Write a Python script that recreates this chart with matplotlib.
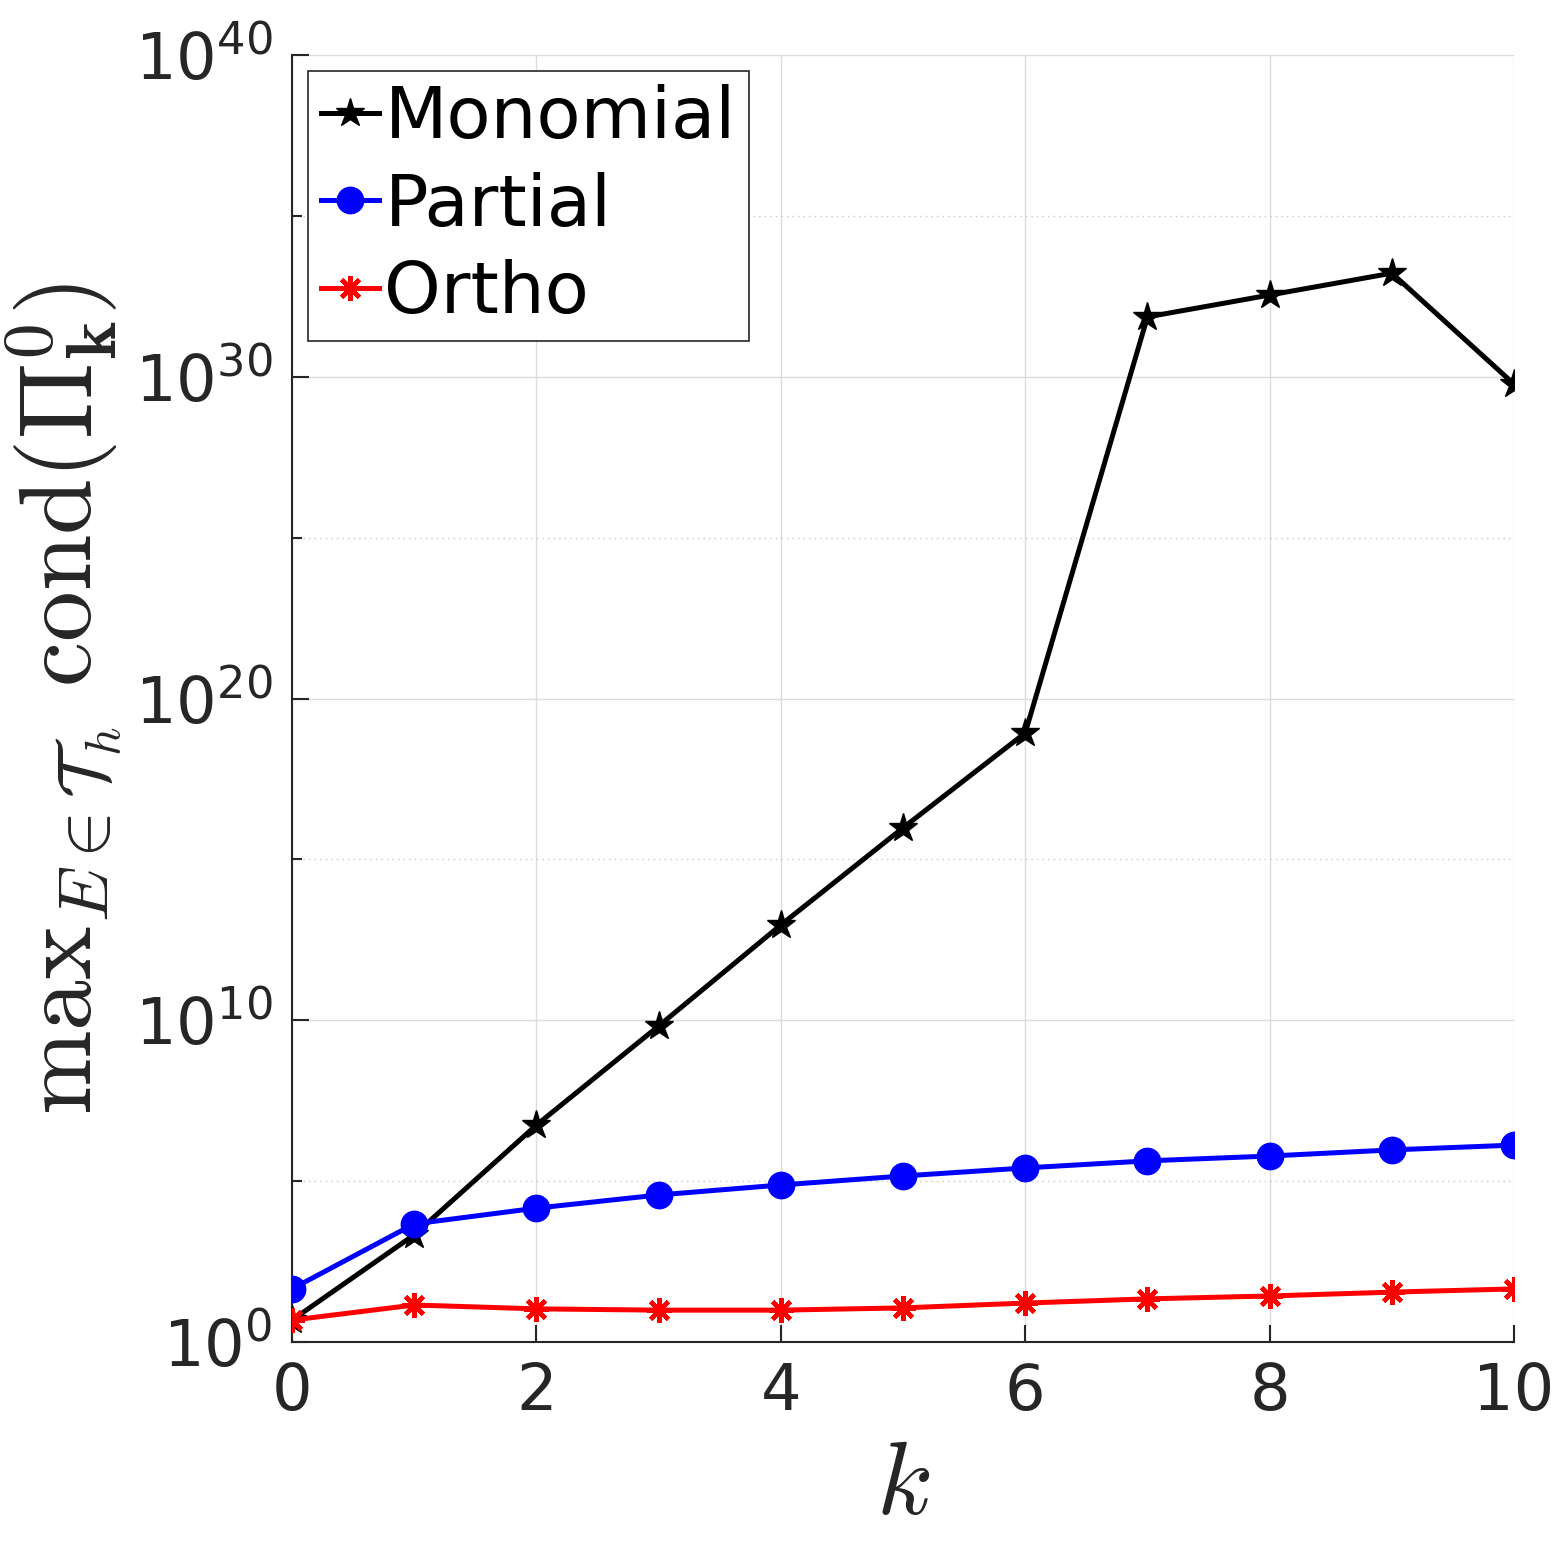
import numpy as np
import matplotlib
matplotlib.use("Agg")
from matplotlib import pyplot as plt

# polynomial degree
k = [0, 1, 2, 3, 4, 5, 6, 7, 8, 9, 10]

# log10 of max condition number
log_monomial = [0.68, 3.33, 6.74, 9.82, 12.96, 15.98, 18.93, 31.86, 32.54, 33.22, 29.77]
log_partial = [1.65, 3.67, 4.16, 4.57, 4.88, 5.16, 5.41, 5.63, 5.78, 5.97, 6.12]
log_ortho = [0.68, 1.15, 1.03, 0.99, 0.99, 1.06, 1.21, 1.34, 1.43, 1.55, 1.65]

x_ticks = [0, 2, 4, 6, 8, 10]
y_major_exp = [0, 10, 20, 30, 40]
y_minor_exp = [5, 15, 25, 35]

plt.rcParams["font.family"] = "DejaVu Sans"
plt.rcParams["mathtext.fontset"] = "dejavusans"

fig = plt.figure(figsize=(15.63, 15.63), dpi=100)
ax = fig.add_axes([0.1868, 0.1414, 0.7819, 0.8234])

ax.plot(k, 10.0 ** np.array(log_monomial), "-", color="black", lw=3.6,
        marker="*", markersize=21, label="Monomial", zorder=3)
ax.plot(k, 10.0 ** np.array(log_partial), "-", color="blue", lw=3.6,
        marker="o", markersize=19, label="Partial", zorder=4)
ax.plot(k, 10.0 ** np.array(log_ortho), "-", color="red", lw=3.6,
        marker=(8, 2, 0), markersize=18, markeredgewidth=3.2,
        label="Ortho", zorder=5)

ax.set_yscale("log")
ax.set_xlim(0, 10)
ax.set_ylim(1, 1e40)
ax.set_xticks(x_ticks)
ax.set_yticks([10.0 ** e for e in y_major_exp])
ax.set_yticks([10.0 ** e for e in y_minor_exp], minor=True)
ax.yaxis.set_minor_formatter(matplotlib.ticker.NullFormatter())

ax.grid(True, which="major", color="#dcdcdc", lw=1.0, ls="-")
ax.grid(True, which="minor", axis="y", color="#c8c8c8", lw=1.0, ls=(0, (1, 3)))
ax.set_axisbelow(True)

for s in ["top", "right"]:
    ax.spines[s].set_visible(False)
for s in ["left", "bottom"]:
    ax.spines[s].set_color("#262626")
    ax.spines[s].set_linewidth(1.5)

ax.tick_params(which="both", direction="in", colors="#262626",
               labelsize=46, width=1.5, pad=14)
ax.tick_params(which="major", length=12)
ax.tick_params(which="minor", length=7)

ax.set_xlabel(r"$k$", fontsize=74, math_fontfamily="cm", color="#262626",
              labelpad=8)
ax.set_ylabel(r"$\mathrm{max}_{E\in\mathcal{T}_h}\ \mathrm{cond}(\mathbf{\Pi}^{\mathbf{0}}_{\mathbf{k}})$",
              fontsize=73, math_fontfamily="cm", color="#262626", labelpad=8)

leg = ax.legend(loc="upper left", fontsize=52, fancybox=False,
                edgecolor="#262626", framealpha=1, handlelength=0.8,
                handletextpad=0.08, borderaxespad=0.22, borderpad=0.18,
                labelspacing=0.26, handleheight=0.7)
leg.get_frame().set_linewidth(1.2)

fig.savefig("out.png", dpi=100)
